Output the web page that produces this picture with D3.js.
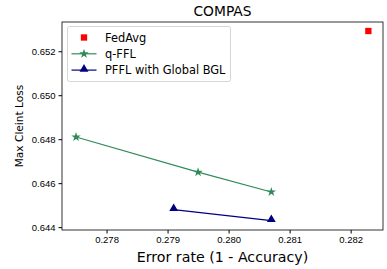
<!DOCTYPE html>
<html>
<head>
<meta charset="utf-8">
<script src="https://cdn.jsdelivr.net/npm/d3@7"></script>
<style>
  body { margin: 0; background: #fff; }
  svg { font-family: "DejaVu Sans", sans-serif; }
  .tick text { font-size: 9.5px; fill: #000; }
</style>
</head>
<body>
<div id="chart"></div>
<script>
let width = 387, height = 269,
    margin = ({ top: 22, right: 4, bottom: 39, left: 62 });

// data
const fedavgX = [0.28229], fedavgY = [0.65292];
const qfflX = [0.2775, 0.2795, 0.2807], qfflY = [0.6481, 0.6465, 0.6456];
const pfflX = [0.2791, 0.2807], pfflY = [0.6448, 0.6443];
const xTicks = [0.278, 0.279, 0.280, 0.281, 0.282];
const yTicks = [0.644, 0.646, 0.648, 0.650, 0.652];

const zip = (xs, ys) => xs.map((x, i) => ({ x: x, y: ys[i] }));
const fedavg = zip(fedavgX, fedavgY), qffl = zip(qfflX, qfflY), pffl = zip(pfflX, pfflY);

const svg = d3.select("#chart")
  .append("svg")
  .attr("width", width)
  .attr("height", height);

let x = d3.scaleLinear()
  .domain([0.27727, 0.28253])
  .range([margin.left, width - margin.right]);

let y = d3.scaleLinear()
  .domain([0.64387, 0.65333])
  .range([height - margin.bottom, margin.top]);

svg.append("g") // x-axis
  .attr("transform", `translate(0,${height - margin.bottom})`)
  .call(d3.axisBottom(x).tickValues(xTicks).tickFormat(d3.format(".3f")).tickSize(3.5).tickPadding(3))
  .call(g => g.select(".domain").remove());

svg.append("g") // y-axis
  .attr("transform", `translate(${margin.left},0)`)
  .call(d3.axisLeft(y).tickValues(yTicks).tickFormat(d3.format(".3f")).tickSize(3.5).tickPadding(3))
  .call(g => g.select(".domain").remove());

svg.append("rect") // frame
  .attr("x", margin.left)
  .attr("y", margin.top)
  .attr("width", width - margin.left - margin.right)
  .attr("height", height - margin.top - margin.bottom)
  .attr("fill", "none")
  .attr("stroke", "#000")
  .attr("stroke-width", 0.8);

let line = d3.line().x(d => x(d.x)).y(d => y(d.y));

const star = d3.symbol().type(d3.symbolStar).size(28);
const tri = d3.symbol().type(d3.symbolTriangle).size(34);
const sq = d3.symbol().type(d3.symbolSquare).size(40);

svg.append("path")
  .datum(qffl)
  .attr("fill", "none").attr("stroke", "seagreen").attr("stroke-width", 1.2)
  .attr("d", line);
svg.append("g").selectAll("path").data(qffl).join("path")
  .attr("transform", d => `translate(${x(d.x)},${y(d.y)})`)
  .attr("d", star).attr("fill", "seagreen");

svg.append("path")
  .datum(pffl)
  .attr("fill", "none").attr("stroke", "navy").attr("stroke-width", 1.2)
  .attr("d", line);
svg.append("g").selectAll("path").data(pffl).join("path")
  .attr("transform", d => `translate(${x(d.x)},${y(d.y) - 1})`)
  .attr("d", tri).attr("fill", "navy");

svg.append("g").selectAll("path").data(fedavg).join("path")
  .attr("transform", d => `translate(${x(d.x)},${y(d.y)})`)
  .attr("d", sq).attr("fill", "red");

// legend
const legend = svg.append("g").attr("transform", "translate(67.5,26.5)");
legend.append("rect")
  .attr("width", 163).attr("height", 55).attr("rx", 2)
  .attr("fill", "#fff").attr("fill-opacity", 0.8)
  .attr("stroke", "#ccc").attr("stroke-width", 0.8);

const items = [
  { label: "FedAvg", color: "red", sym: sq, line: false },
  { label: "q-FFL", color: "seagreen", sym: star, line: true },
  { label: "PFFL with Global BGL", color: "navy", sym: tri, line: true }
];
items.forEach((it, i) => {
  let yy = 11 + i * 16.3;
  if (it.line) {
    legend.append("line")
      .attr("x1", 4).attr("x2", 29).attr("y1", yy).attr("y2", yy)
      .attr("stroke", it.color).attr("stroke-width", 1.2);
  }
  legend.append("path")
    .attr("transform", `translate(16.5,${yy - (it.sym === tri ? 1 : 0)})`)
    .attr("d", it.sym).attr("fill", it.color);
  legend.append("text")
    .attr("x", 37.5).attr("y", yy)
    .attr("dominant-baseline", "central")
    .attr("font-size", 11.4)
    .text(it.label);
});

svg.append("text") // title
  .attr("x", (margin.left + width - margin.right) / 2)
  .attr("y", 16)
  .attr("text-anchor", "middle")
  .attr("font-size", 13.8)
  .text("COMPAS");

svg.append("text") // x label
  .attr("x", (margin.left + width - margin.right) / 2)
  .attr("y", 262)
  .attr("text-anchor", "middle")
  .attr("font-size", 14.2)
  .text("Error rate (1 - Accuracy)");

svg.append("text") // y label
  .attr("transform", `translate(22.5,${(margin.top + height - margin.bottom) / 2}) rotate(-90)`)
  .attr("text-anchor", "middle")
  .attr("font-size", 10.6)
  .text("Max Cleint Loss");
</script>
</body>
</html>
